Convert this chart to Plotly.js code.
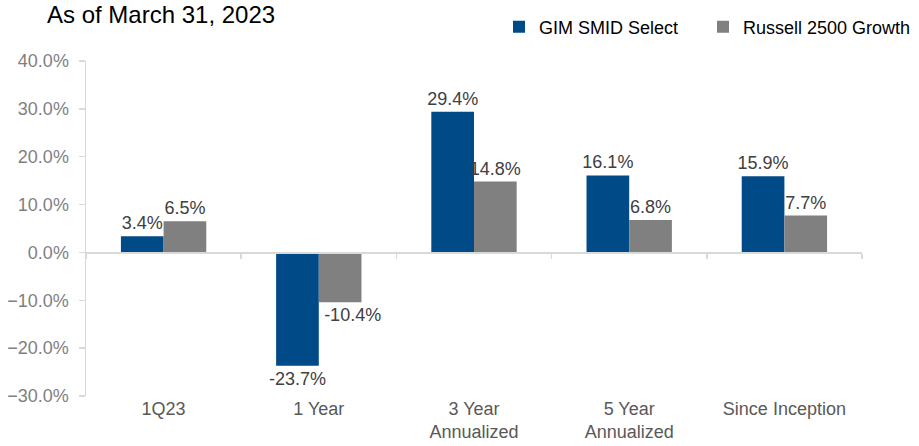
<!DOCTYPE html>
<html>
<head>
<meta charset="utf-8">
<script src="https://cdn.plot.ly/plotly-3.0.1.min.js"></script>
<style>html,body{margin:0;padding:0;background:#fff;}#chart{width:919px;height:446px;}</style>
</head>
<body>
<div id="chart"></div>
<script>
const categories = ["1Q23", "1 Year", "3 Year<br>Annualized", "5 Year<br>Annualized", "Since Inception"];
const gimValues = [3.4, -23.7, 29.4, 16.1, 15.9];
const russellValues = [6.5, -10.4, 14.8, 6.8, 7.7];
const seriesNames = ["GIM SMID Select", "Russell 2500 Growth"];
const titleText = "As of March 31, 2023";

const FONT = "Liberation Sans, Arial, sans-serif";
const labelFont = {family: FONT, size: 18, color: "#404040"};

function fmt(v) { return v.toFixed(1) + "%"; }
// benchmark's negative label is nudged right of its bar (as in the source), via leading padding
function fmtShifted(v) { return (v < 0 ? "\u00a0\u00a0\u00a0\u00a0\u00a0" : "") + fmt(v); }

const traces = [
  {
    type: "bar", name: seriesNames[0], x: categories, y: gimValues,
    marker: {color: "#004A87"}, legend: "legend",
    text: gimValues.map(fmt),
    textposition: "outside", textfont: labelFont, cliponaxis: false,
    constraintext: "none", hoverinfo: "skip"
  },
  {
    type: "bar", name: seriesNames[1], x: categories, y: russellValues,
    marker: {color: "#808080"}, legend: "legend2",
    text: russellValues.map(fmtShifted),
    textposition: "outside", textfont: labelFont, cliponaxis: false,
    constraintext: "none", hoverinfo: "skip"
  },
  {
    type: "scatter", mode: "markers", x: categories, y: categories.map(() => null),
    xaxis: "x2", showlegend: false, hoverinfo: "skip"
  }
];

const legendBase = {
  orientation: "h", xref: "container", yref: "container",
  xanchor: "left", y: 1 - 27/446, yanchor: "middle",
  font: {family: FONT, size: 18, color: "#000"},
  bgcolor: "rgba(0,0,0,0)", borderwidth: 0
};

const layout = {
  width: 919, height: 446,
  margin: {l: 86, r: 57, t: 61, b: 50},
  paper_bgcolor: "#fff", plot_bgcolor: "#fff",
  font: {family: FONT, size: 18, color: "#404040"},
  title: {
    text: titleText, font: {family: FONT, size: 24, color: "#000"},
    xref: "container", x: 47/919, xanchor: "left",
    yref: "container", y: 1 - 15/446, yanchor: "middle"
  },
  barmode: "group", bargap: 0.45, bargroupgap: 0,
  showlegend: true,
  legend: Object.assign({}, legendBase, {x: 499/919}),
  legend2: Object.assign({}, legendBase, {x: 703/919}),
  xaxis: {
    type: "category", showline: false, ticks: "", showgrid: false, zeroline: false,
    tickfont: {family: FONT, size: 18, color: "#595959"}, fixedrange: true
  },
  xaxis2: {
    type: "category", overlaying: "x", matches: "x", anchor: "free", position: 30/70,
    showline: true, linecolor: "#d9d9d9", linewidth: 1.5,
    ticks: "outside", tickson: "boundaries", ticklen: 5, tickcolor: "#d9d9d9", tickwidth: 1.5,
    showticklabels: false, showgrid: false, zeroline: false
  },
  yaxis: {
    range: [-30, 40], dtick: 10, tick0: 0, tickformat: ".1f", ticksuffix: "%",
    showline: true, linecolor: "#d9d9d9", linewidth: 1.5,
    ticks: "outside", ticklen: 6, tickcolor: "#d9d9d9", tickwidth: 1.5,
    ticklabelstandoff: 6,
    showgrid: false, zeroline: false,
    tickfont: {family: FONT, size: 18, color: "#7f7f7f"}
  }
};

Plotly.newPlot("chart", traces, layout, {displayModeBar: false, staticPlot: true});
</script>
</body>
</html>
